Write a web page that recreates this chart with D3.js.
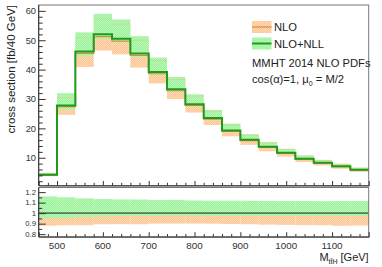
<!DOCTYPE html>
<html><head><meta charset="utf-8">
<script src="https://cdn.jsdelivr.net/npm/d3@7"></script>
<style>html,body{margin:0;padding:0;background:#fff;}svg{display:block;font-family:"Liberation Sans",Arial,sans-serif;}</style>
</head><body>
<script>
// ---- data ----
const binEdges = [460,500,540,580,620,660,700,740,780,820,860,900,940,980,1020,1060,1100,1140,1180];
const nllCentral = [4.2,27.8,46.2,52.0,50.5,45.5,39.2,33.3,28.2,23.5,19.3,16.1,13.7,11.7,9.65,8.3,7.1,5.9];
const nllUp      = [4.87,32.0,52.7,59.0,57.1,51.4,44.1,37.5,31.6,26.3,21.6,18.0,15.3,13.05,10.76,9.25,7.92,6.58];
const nllDown    = [4.0,26.5,44.6,50.4,49.2,44.4,38.2,32.5,27.5,22.9,18.8,15.7,13.35,11.4,9.4,8.1,6.92,5.75];
const nloCentral = [4.1,27.4,45.5,51.2,49.7,44.8,38.6,32.8,27.8,23.1,19.0,15.85,13.5,11.5,9.5,8.15,7.0,5.8];
const nloUp      = [4.6,30.5,50.8,57.3,55.5,50.0,43.1,36.6,31.0,25.8,21.2,17.7,15.05,12.85,10.6,9.1,7.8,6.5];
const nloDown    = [3.7,24.6,40.9,46.5,45.2,40.7,35.3,30.0,25.4,21.15,17.3,14.4,12.2,10.4,8.55,7.35,6.25,5.2];
const xTickLabels = [500,600,700,800,900,1000,1100];
const yTickLabels = [10,20,30,40,50,60];
const rTickLabels = [0.8,0.9,1,1.1,1.2];
const legendLabels = ["NLO","NLO+NLL"];
const infoLines = ["MMHT 2014 NLO PDFs"];

// ---- layout ----
const W=382,H=267;
const L=38.7,R=368.7,mT=5,mB=185.5,rT=187.5,rB=236.7;
const svg=d3.select("body").append("svg").attr("width",W).attr("height",H);
const defs=svg.append("defs");
function pat(id,base,dot){
  const p=defs.append("pattern").attr("id",id).attr("width",2).attr("height",2).attr("patternUnits","userSpaceOnUse");
  p.append("rect").attr("width",2).attr("height",2).attr("fill",base);
  p.append("rect").attr("width",1).attr("height",1).attr("fill",dot);
  p.append("rect").attr("x",1).attr("y",1).attr("width",1).attr("height",1).attr("fill",dot);
}
pat("gpat","#9cf29c","#b8f9b8");
pat("opat","#fcc592","#fed9b6");
const GREEN="#1f9a1f", ORANGE="#e0893a", AX="#333";

const x=d3.scaleLinear().domain([460,1180]).range([L,R]);
const y=d3.scaleLinear().domain([0.55,62]).range([mB,mT]);
const yr=d3.scaleLinear().domain([0.776,1.244]).range([rB,rT]);

const bins=nllCentral.map((c,i)=>({x0:binEdges[i],x1:binEdges[i+1],c,u:nllUp[i],d:nllDown[i],oc:nloCentral[i],ou:nloUp[i],od:nloDown[i]}));

// ---- main panel ----
const gm=svg.append("g");
gm.selectAll("rect.ob").data(bins).join("rect").attr("x",d=>x(d.x0)).attr("width",d=>x(d.x1)-x(d.x0))
  .attr("y",d=>y(d.ou)).attr("height",d=>y(d.od)-y(d.ou)).attr("fill","url(#opat)");
gm.selectAll("rect.gb").data(bins).join("rect").attr("x",d=>x(d.x0)).attr("width",d=>x(d.x1)-x(d.x0))
  .attr("y",d=>y(d.u)).attr("height",d=>y(d.d)-y(d.u)).attr("fill","url(#gpat)");
gm.selectAll("line.ot").data(bins).join("line").attr("x1",d=>x(d.x0)).attr("x2",d=>x(d.x1))
  .attr("y1",d=>y(d.ou)).attr("y2",d=>y(d.ou)).attr("stroke","#e6c27a").attr("stroke-opacity",0.6).attr("stroke-width",0.8);
function stepLine(vals){
  const pts=[];
  vals.forEach((v,i)=>{pts.push([binEdges[i],v]);pts.push([binEdges[i+1],v]);});
  return pts;
}
const lineM=d3.line().x(d=>x(d[0])).y(d=>y(d[1]));
gm.append("path").attr("d",lineM(stepLine(nloCentral))).attr("fill","none").attr("stroke",ORANGE).attr("stroke-width",1.2);
gm.append("path").attr("d",lineM(stepLine(nllCentral))).attr("fill","none").attr("stroke",GREEN).attr("stroke-width",2);

// frame
svg.append("rect").attr("x",L).attr("y",mT).attr("width",R-L).attr("height",mB-mT).attr("fill","none").attr("stroke","#777").attr("stroke-width",1);

// main y axis
const yAxis=d3.axisRight(y).tickValues(yTickLabels).tickSize(7).tickFormat("");
svg.append("g").attr("transform",`translate(${L},0)`).call(yAxis).call(g=>{g.select(".domain").remove();g.selectAll("line").attr("stroke",AX);});
const yMinor=d3.range(2,62,2).filter(v=>v%10!==0);
svg.append("g").attr("transform",`translate(${L},0)`).call(d3.axisRight(y).tickValues(yMinor).tickSize(4).tickFormat(""))
  .call(g=>{g.select(".domain").remove();g.selectAll("line").attr("stroke",AX);});
svg.append("g").selectAll("text").data(yTickLabels).join("text").attr("x",36).attr("y",d=>y(d)+3.3)
  .attr("text-anchor","end").attr("font-size",9.3).attr("fill",AX).text(d=>d);
svg.append("line").attr("x1",L).attr("x2",L).attr("y1",mT).attr("y2",mB).attr("stroke",AX);

// main x axis ticks (upwards)
const xMinor=d3.range(480,1180,20).filter(v=>v%100!==0);
function xTicks(yy){
  svg.append("g").attr("transform",`translate(0,${yy})`).call(d3.axisTop(x).tickValues(xTickLabels).tickSize(4.5).tickFormat(""))
    .call(g=>{g.select(".domain").attr("stroke",AX);g.selectAll("line").attr("stroke",AX);});
  svg.append("g").attr("transform",`translate(0,${yy})`).call(d3.axisTop(x).tickValues(xMinor).tickSize(2.7).tickFormat(""))
    .call(g=>{g.select(".domain").remove();g.selectAll("line").attr("stroke",AX);});
}
xTicks(mB);

// ---- ratio panel ----
const gr=svg.append("g");
gr.selectAll("rect.ob").data(bins).join("rect").attr("x",d=>x(d.x0)).attr("width",d=>x(d.x1)-x(d.x0))
  .attr("y",d=>yr(d.ou/d.c)).attr("height",d=>yr(d.od/d.c)-yr(d.ou/d.c)).attr("fill","url(#opat)");
gr.selectAll("rect.gb").data(bins).join("rect").attr("x",d=>x(d.x0)).attr("width",d=>x(d.x1)-x(d.x0))
  .attr("y",d=>yr(d.u/d.c)).attr("height",d=>yr(d.d/d.c)-yr(d.u/d.c)).attr("fill","url(#gpat)");
gr.append("line").attr("x1",L).attr("x2",R).attr("y1",yr(1)).attr("y2",yr(1)).attr("stroke","#567a56").attr("stroke-width",1.6);
svg.append("rect").attr("x",L).attr("y",rT).attr("width",R-L).attr("height",rB-rT).attr("fill","none").attr("stroke","#777").attr("stroke-width",1);
svg.append("g").attr("transform",`translate(${L},0)`).call(d3.axisRight(yr).tickValues(rTickLabels).tickSize(7).tickFormat(""))
  .call(g=>{g.select(".domain").remove();g.selectAll("line").attr("stroke",AX);});
svg.append("g").attr("transform",`translate(${L},0)`).call(d3.axisRight(yr).tickValues([0.85,0.95,1.05,1.15]).tickSize(3.5).tickFormat(""))
  .call(g=>{g.select(".domain").remove();g.selectAll("line").attr("stroke",AX);});
svg.append("line").attr("x1",L).attr("x2",L).attr("y1",rT).attr("y2",rB).attr("stroke",AX);
svg.append("g").selectAll("text").data(rTickLabels).join("text").attr("x",36).attr("y",d=>yr(d)+2.7)
  .attr("text-anchor","end").attr("font-size",7.8).attr("fill",AX).text(d=>d);
xTicks(rB);
svg.append("g").selectAll("text").data(xTickLabels).join("text").attr("x",d=>x(d)).attr("y",249)
  .attr("text-anchor","middle").attr("font-size",9.8).attr("fill",AX).text(d=>d);

// axis titles
svg.append("text").attr("transform","translate(14.5,5) rotate(-90)").attr("text-anchor","end")
  .attr("font-size",11.5).attr("fill","#222").text("cross section [fb/40 GeV]");
const xt=svg.append("text").attr("x",R).attr("y",261).attr("text-anchor","end").attr("font-size",11).attr("fill","#222");
xt.append("tspan").text("M");
xt.append("tspan").attr("font-size",7).attr("dy",3).text("tt\u0304H");
xt.append("tspan").attr("dy",-3).text(" [GeV]");

// ---- legend ----
const leg=svg.append("g");
const legCols=[["url(#opat)",ORANGE],["url(#gpat)",GREEN]];
legendLabels.forEach((t,i)=>{
  const cy=27+i*16.5;
  leg.append("rect").attr("x",252).attr("y",cy-6).attr("width",19.5).attr("height",12).attr("fill",legCols[i][0]);
  leg.append("line").attr("x1",252).attr("x2",271.5).attr("y1",cy).attr("y2",cy).attr("stroke",legCols[i][1]).attr("stroke-width",i?2:1.2);
  leg.append("text").attr("x",274).attr("y",cy+4).attr("font-size",11.2).attr("fill","#222").text(t);
});
leg.append("text").attr("x",252).attr("y",66.5).attr("font-size",11.2).attr("fill","#222").text(infoLines[0]);
const c=leg.append("text").attr("x",252).attr("y",83).attr("font-size",11.2).attr("fill","#222");
c.append("tspan").text("cos(\u03b1)=1, \u03bc");
c.append("tspan").attr("font-size",7).attr("dy",3).text("0");
c.append("tspan").attr("dy",-3).text(" = M/2");
</script>
</body></html>
